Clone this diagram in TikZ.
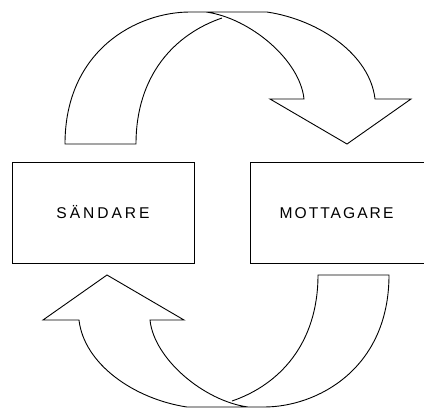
\documentclass[tikz,border=0pt]{standalone}
\usepackage{fontspec}
\setmainfont{Liberation Sans}
\begin{document}
\begin{tikzpicture}[x=1pt,y=-1pt,line width=0.9pt,line join=miter,
  box/.style={draw,line width=0.9pt,inner sep=0pt,minimum height=100.5pt,
    text height=11pt,text depth=0pt,
    font=\fontsize{15.6}{18}\selectfont\addfontfeature{LetterSpace=#1}},
  box/.default=19,
  pics/flowarrow/.style={code={
    % curved band: inner edge of the rising part, tail, outer edge,
    % arrow head, then inner edge of the falling part
    \draw (222,18) .. controls (175,34) and (136,75) .. (136,144)
      -- (65,144) .. controls (65,50) and (137,12) .. (190,12)
      -- (267,12) .. controls (320,20) and (370,55) .. (375,99)
      -- (411,99) -- (347,144) -- (270,99) -- (304,99)
      .. controls (300,60) and (250,18) .. (206,12);
  }}]
\useasboundingbox (0,0) rectangle (424,408);

\node[box,minimum width=182pt] (sender) at (103,212.75) {SÄNDARE};
\node[box=13,minimum width=178pt] (receiver) at (339,212.75) {MOTTAGARE\hspace*{5pt}};

% upper arrow: sender to receiver
\pic at (0,0) {flowarrow};
% lower arrow: the same band turned half a turn
\pic[rotate=180] at (454,419) {flowarrow};
\end{tikzpicture}
\end{document}
